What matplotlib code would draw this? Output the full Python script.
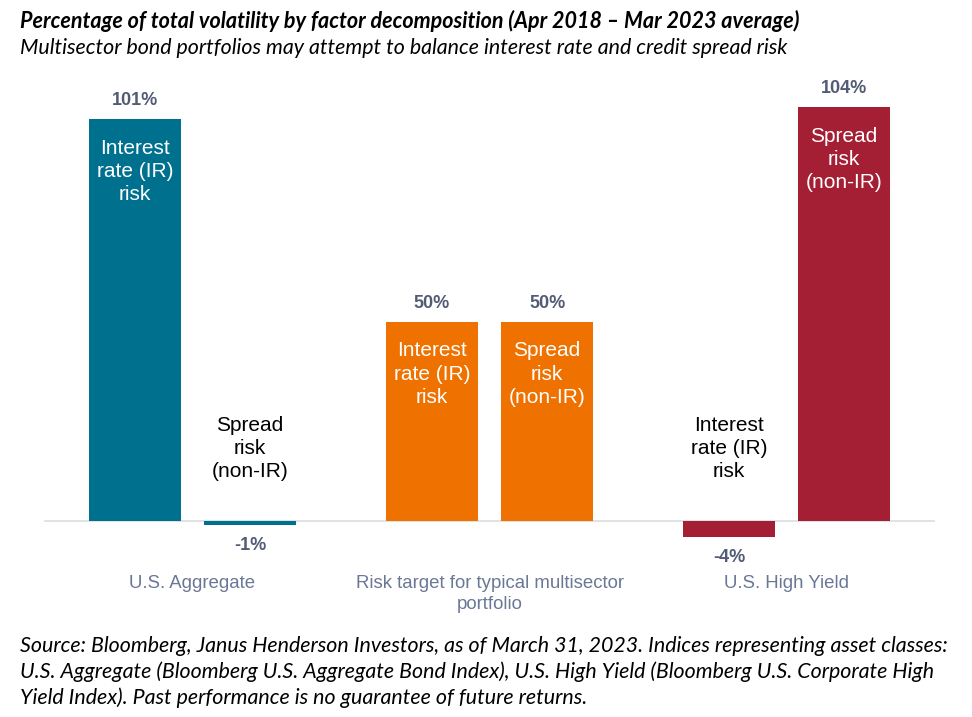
import matplotlib.pyplot as plt
import numpy as np

# === Datos ===
groups = ["U.S. Aggregate", "Risk target for typical multisector\nportfolio", "U.S. High Yield"]
ir_risk = [101, 50, -4]       # Interest rate (IR) risk
spread_risk = [-1, 50, 104]   # Spread risk (non-IR)
value_labels_ir = ["101%", "50%", "-4%"]
value_labels_sp = ["-1%", "50%", "104%"]
ir_text = "Interest\nrate (IR)\nrisk"
sp_text = "Spread\nrisk\n(non-IR)"
colors = ["#00708f", "#ef7100", "#a41e34"]

title = "Percentage of total volatility by factor decomposition (Apr 2018 \u2013 Mar 2023 average)"
subtitle = "Multisector bond portfolios may attempt to balance interest rate and credit spread risk"
source = ("Source: Bloomberg, Janus Henderson Investors, as of March 31, 2023. Indices representing asset classes:\n"
          "U.S. Aggregate (Bloomberg U.S. Aggregate Bond Index), U.S. High Yield (Bloomberg U.S. Corporate High\n"
          "Yield Index). Past performance is no guarantee of future returns.")

W, H = 972, 717
fig = plt.figure(figsize=(W / 100, H / 100), dpi=100)
ax = fig.add_axes([44 / W, 1 - 560 / H, 891 / W, 460 / H])

x = np.arange(len(groups))
off = 0.194
bw = 0.31
label_color = "#525c75"
cat_color = "#6a7896"

for i in range(len(groups)):
    for xi, val, lab, txt in [(x[i] - off, ir_risk[i], value_labels_ir[i], ir_text),
                              (x[i] + off, spread_risk[i], value_labels_sp[i], sp_text)]:
        ax.bar(xi, val, width=bw, color=colors[i], zorder=2)
        if val > 0:
            ax.annotate(lab, (xi, val), xytext=(0, 7), textcoords="offset points",
                        ha="center", va="bottom", fontsize=13, fontweight="bold",
                        color=label_color, family="Liberation Sans")
            ax.annotate(txt, (xi, val), xytext=(0, -14), textcoords="offset points",
                        ha="center", va="top", fontsize=15, color="white",
                        family="Liberation Sans", linespacing=1.28)
        else:
            ax.annotate(lab, (xi, val), xytext=(0, -14.5), textcoords="offset points",
                        ha="center", va="center", fontsize=13, fontweight="bold",
                        color=label_color, family="Liberation Sans")
            ax.annotate(txt, (xi, 0), xytext=(0, 28.5), textcoords="offset points",
                        ha="center", va="bottom", fontsize=15, color="black",
                        family="Liberation Sans", linespacing=1.28)

ax.axhline(0, color="#d9dde3", lw=1.2, zorder=1)
ax.set_xlim(-0.5, 2.5)
ax.set_ylim(-9.8, 105.8)
ax.set_xticks(x)
ax.set_xticklabels(groups, fontsize=13.4, color=cat_color, family="Liberation Sans",
                   va="top", linespacing=1.3)
ax.tick_params(axis="x", length=0, pad=11)
ax.set_yticks([])
for s in ax.spines.values():
    s.set_visible(False)

fig.text(20 / W, 1 - 21 / H, title, fontsize=15.5, fontweight="bold", style="italic",
         family="Lato", va="center", ha="left")
fig.text(20 / W, 1 - 48 / H, subtitle, fontsize=15.4, style="italic",
         family="Lato", va="center", ha="left")
fig.text(20 / W, 1 - 636 / H, source, fontsize=15.4, style="italic",
         family="Lato", va="top", ha="left", linespacing=1.33)

plt.savefig("out.png", dpi=100)
plt.close()
